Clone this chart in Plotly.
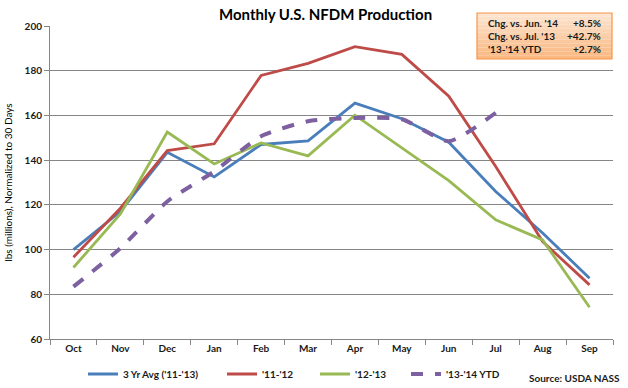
import plotly.graph_objects as go

months = ["Oct", "Nov", "Dec", "Jan", "Feb", "Mar", "Apr", "May", "Jun", "Jul", "Aug", "Sep"]
avg_3yr = [100.0, 117.0, 143.5, 132.5, 147.0, 148.6, 165.5, 158.5, 148.0, 126.0, 107.4, 87.2]
y_11_12 = [96.6, 118.5, 144.3, 147.3, 177.9, 183.3, 190.8, 187.3, 168.6, 137.2, 103.6, 84.2]
y_12_13 = [92.0, 115.9, 152.6, 138.3, 147.7, 141.9, 160.1, 145.5, 130.8, 113.3, 104.3, 74.2]
y_13_14 = [83.4, 100.6, 121.5, 135.0, 150.7, 157.4, 158.9, 158.3, 148.5, 161.2]

box_labels = ["Chg. vs. Jun. '14", "Chg. vs. Jul. '13", "'13-'14 YTD"]
box_values = ["+8.5%", "+42.7%", "+2.7%"]

FONT = "Lato"
W, H = 628, 388
L, R, T, B = 50, 613, 26, 339


def px(x):
    return (x - L) / (R - L)


def py(y):
    return (B - y) / (B - T)


fig = go.Figure()
fig.add_trace(go.Scatter(x=months, y=avg_3yr, name="3 Yr Avg ('11-'13)", mode="lines",
                         line=dict(color="#4a7ebb", width=2.8), legend="legend"))
fig.add_trace(go.Scatter(x=months, y=y_11_12, name="'11-'12", mode="lines",
                         line=dict(color="#be4b48", width=2.8), legend="legend2"))
fig.add_trace(go.Scatter(x=months, y=y_12_13, name="'12-'13", mode="lines",
                         line=dict(color="#98b954", width=2.8), legend="legend3"))
fig.add_trace(go.Scatter(x=months[:len(y_13_14)], y=y_13_14, name="'13-'14 YTD", mode="lines",
                         line=dict(color="#7d60a0", width=4, dash="dash", shape="spline", smoothing=0.6),
                         legend="legend4"))

shapes = []
# gradient-like orange box
x0, x1, y0, y1 = 477, 612, 13, 59
n = 12
top_c = (253, 228, 208)
bot_c = (250, 185, 130)
for i in range(n):
    t = i / (n - 1)
    c = tuple(int(top_c[k] + (bot_c[k] - top_c[k]) * t) for k in range(3))
    ya = y0 + (y1 - y0) * i / n
    yb = y0 + (y1 - y0) * (i + 1) / n
    shapes.append(dict(type="rect", xref="paper", yref="paper",
                       x0=px(x0), x1=px(x1), y0=py(yb), y1=py(ya),
                       fillcolor="rgb(%d,%d,%d)" % c, line=dict(width=0), layer="above"))
shapes.append(dict(type="rect", xref="paper", yref="paper",
                   x0=px(x0), x1=px(x1), y0=py(y1), y1=py(y0),
                   fillcolor="rgba(0,0,0,0)", line=dict(color="#f79646", width=1.2), layer="above"))

annotations = [dict(text="<b>Monthly U.S. NFDM Production</b>", xref="paper", yref="paper",
                    x=px(325), y=py(14), xanchor="center", yanchor="middle", showarrow=False,
                    font=dict(family=FONT, size=15, color="#000000"))]
for i, (lab, val) in enumerate(zip(box_labels, box_values)):
    yy = 23.5 + 12.5 * i
    annotations.append(dict(text=lab, xref="paper", yref="paper", x=px(486), y=py(yy),
                            xanchor="left", yanchor="middle", showarrow=False,
                            font=dict(family=FONT, size=10, color="#1a1a1a", weight="bold")))
    annotations.append(dict(text=val, xref="paper", yref="paper", x=px(603), y=py(yy),
                            xanchor="right", yanchor="middle", showarrow=False,
                            font=dict(family=FONT, size=10, color="#1a1a1a", weight="bold")))
annotations.append(dict(text="Source: USDA NASS", xref="paper", yref="paper", x=px(527), y=py(378),
                        xanchor="left", yanchor="middle", showarrow=False,
                        font=dict(family=FONT, size=10, color="#1a1a1a", weight="bold")))

legend_font = dict(family=FONT, size=10, color="#1a1a1a", weight="bold")


def leg(xpix):
    return dict(orientation="h", x=px(xpix), y=py(374), xanchor="left", yanchor="middle",
                font=legend_font, bgcolor="rgba(0,0,0,0)", itemwidth=30)


fig.update_layout(
    width=W, height=H,
    margin=dict(l=L, r=W - R, t=T, b=H - B, autoexpand=False),
    paper_bgcolor="white", plot_bgcolor="white",
    font=dict(family=FONT, size=10, color="#000000"),
    showlegend=True,
    legend=leg(83), legend2=leg(222), legend3=leg(315), legend4=leg(406),
    shapes=shapes,
    annotations=annotations,
    xaxis=dict(type="category", categoryorder="array", categoryarray=months,
               showline=True, linecolor="#868686", linewidth=1,
               ticks="outside", tickson="boundaries", ticklen=5, tickcolor="#868686",
               showgrid=False, tickfont=dict(family=FONT, size=10, color="#1a1a1a", weight="bold"),
               range=[-0.5, 11.5], automargin=False),
    yaxis=dict(range=[60, 200], dtick=20, showline=True, linecolor="#868686", linewidth=1,
               ticks="outside", ticklen=5, tickcolor="#868686",
               showgrid=True, gridcolor="#868686", gridwidth=1, zeroline=False,
               tickfont=dict(family=FONT, size=10, color="#1a1a1a", weight="bold"),
               automargin=False,
               title=dict(text="lbs (millions), Normalized to 30 Days", standoff=10,
                          font=dict(family=FONT, size=10))),
)

fig.write_html("out.html", config={"displayModeBar": False},
               post_script="document.body.style.margin='0px';document.body.style.padding='0px';")
